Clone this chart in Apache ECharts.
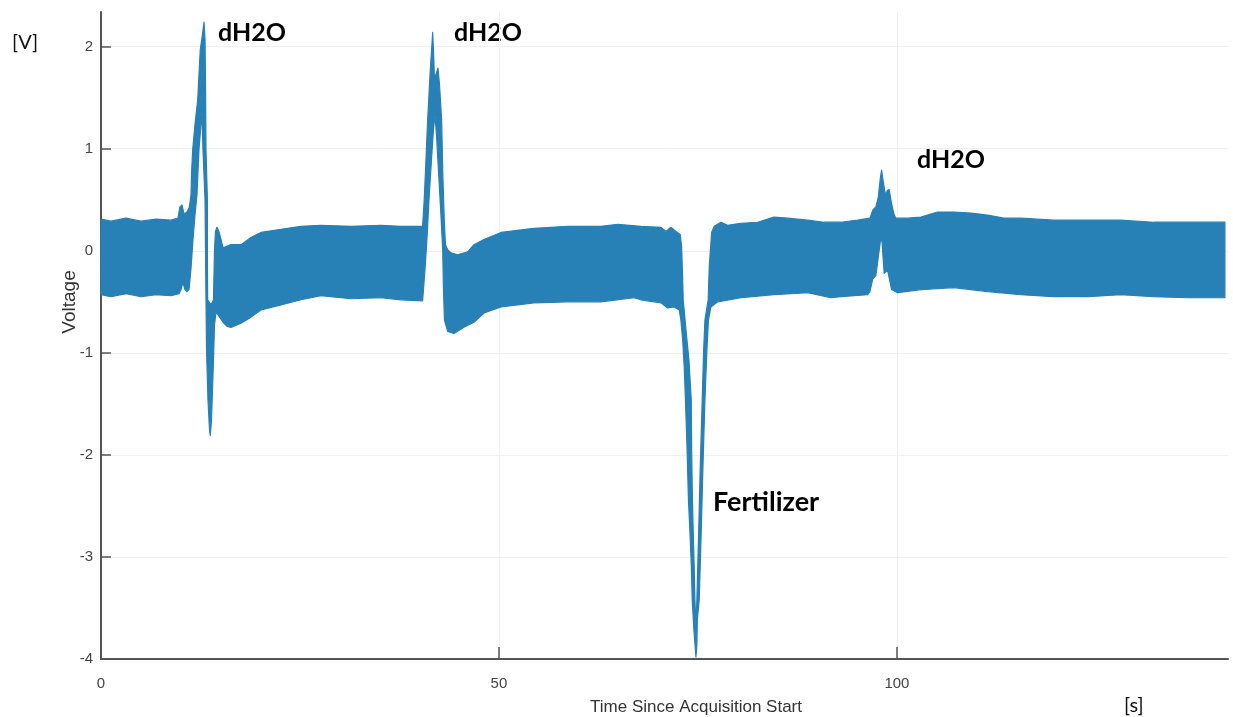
<!DOCTYPE html>
<html>
<head>
<meta charset="utf-8">
<script src="https://cdn.jsdelivr.net/npm/echarts@6/dist/echarts.min.js"></script>
<style>
  html, body { margin: 0; padding: 0; background: #fff; }
  #voltage { width: 1233px; height: 717px; }
</style>
</head>
<body>
<div id="voltage"></div>
<script>
// upper edge of the signal envelope, left to right (time s, voltage V)
var topT = [0, 1.26, 3.14, 5.03, 6.91, 8.79, 9.67, 9.92, 10.18, 10.43, 10.80, 11.06, 11.18, 11.31, 11.37, 11.52,
  11.81, 12.15, 12.47, 12.75, 12.94, 13.07, 13.15, 13.19, 13.37, 13.37, 13.40, 13.82, 14.13, 14.26, 14.38,
  14.57, 14.82, 15.08, 15.33, 16.33, 17.59, 18.84, 20.10, 22.61, 25.13, 27.64, 31.41, 35.18, 37.69, 40.41,
  40.61, 40.83, 41.04, 41.37, 41.58, 41.67, 41.77, 41.90, 42.09, 42.34, 42.53, 42.80, 42.93, 43.13, 43.28,
  43.56, 43.97, 44.81, 46.07, 46.86, 48.12, 50.25, 54.40, 58.67, 62.81, 64.95, 67.84, 70.35, 70.98, 71.61,
  72.24, 72.78, 72.95, 73.05, 73.15, 73.49, 73.87, 74.16, 74.21, 74.31, 74.41, 74.53, 74.62, 74.75, 74.87,
  75.09, 75.29, 75.54, 75.72, 75.88, 76.29, 76.42, 76.72, 77.05, 77.89, 78.73, 80.40, 82.50, 84.55, 86.27,
  88.78, 90.83, 92.96, 95.06, 96.61, 96.98, 97.36, 97.65, 97.93, 98.08, 98.24, 98.55, 98.81, 99.03, 99.31,
  99.62, 99.87, 101.34, 103.02, 105.11, 107.16, 109.30, 111.39, 113.44, 115.58, 119.72, 123.99, 128.14,
  132.29, 136.56, 141.21];
var topV = [0.31, 0.29, 0.32, 0.29, 0.31, 0.30, 0.32, 0.43, 0.45, 0.36, 0.38, 0.42, 0.47, 0.55, 0.75, 0.99,
  1.24, 1.48, 1.97, 2.12, 2.24, 2.07, 1.48, 0.99, 0.50, -0.09, -0.48, -0.53, -0.48, 0.01, 0.19,
  0.23, 0.19, 0.11, 0.03, 0.06, 0.06, 0.13, 0.18, 0.21, 0.24, 0.25, 0.24, 0.25, 0.24, 0.24,
  0.50, 0.89, 1.28, 1.77, 2.02, 2.14, 1.97, 1.68, 1.73, 1.79, 1.63, 1.28, 0.79, 0.30, 0.06,
  0.01, -0.02, -0.04, -0.01, 0.06, 0.11, 0.18, 0.22, 0.24, 0.24, 0.26, 0.24, 0.23, 0.19, 0.23,
  0.19, 0.16, 0.04, -0.19, -0.48, -0.77, -1.07, -1.46, -1.95, -2.44, -2.76, -3.10, -3.42, -3.67, -3.42,
  -2.76, -2.12, -1.46, -0.97, -0.68, -0.48, -0.16, 0.18, 0.24, 0.28, 0.25, 0.27, 0.28, 0.33, 0.32,
  0.30, 0.28, 0.28, 0.30, 0.32, 0.40, 0.43, 0.52, 0.72, 0.79, 0.70, 0.55, 0.59, 0.60, 0.47,
  0.36, 0.32, 0.32, 0.33, 0.38, 0.38, 0.37, 0.35, 0.32, 0.32, 0.30, 0.30, 0.30,
  0.28, 0.28, 0.28];

// lower edge of the envelope, left to right
var botT = [0, 1.26, 3.14, 5.03, 6.91, 8.79, 9.80, 10.05, 10.30, 10.55, 10.80, 11.06, 11.31, 11.56, 11.81,
  12.06, 12.31, 12.69, 12.81, 13.07, 13.13, 13.19, 13.26, 13.44, 13.63, 13.73, 13.88, 14.01, 14.13, 14.26,
  14.45, 14.82, 15.33, 15.83, 16.33, 17.59, 18.84, 20.10, 22.61, 25.13, 27.64, 31.41, 35.18, 37.69, 40.41,
  40.70, 40.95, 41.21, 41.52, 41.77, 41.96, 42.15, 42.40, 42.71, 42.93, 43.03, 43.15, 43.56, 44.35, 45.60,
  46.86, 48.12, 50.25, 54.40, 58.67, 62.81, 66.96, 67.84, 70.35, 71.19, 72.02, 72.65, 72.86, 73.08, 73.28,
  73.43, 73.62, 73.81, 74.00, 74.18, 74.28, 74.50, 74.75, 74.87, 74.92, 75.16, 75.41, 75.63, 75.88, 76.13,
  76.32, 76.63, 77.47, 80.40, 84.55, 88.78, 91.71, 92.96, 96.32, 96.61, 96.95, 97.36, 97.90, 98.08, 98.40,
  98.83, 99.33, 100.09, 103.02, 107.16, 111.43, 115.58, 119.72, 123.99, 128.14, 132.29, 136.56, 141.21];
var botV = [-0.43, -0.45, -0.42, -0.45, -0.43, -0.44, -0.42, -0.38, -0.31, -0.38, -0.40, -0.38, -0.17, 0.11, 0.35,
  0.55, 0.99, 1.36, 0.99, 0.50, 0.01, -0.48, -0.97, -1.46, -1.75, -1.81, -1.66, -1.36, -1.07, -0.73,
  -0.60, -0.64, -0.70, -0.74, -0.75, -0.71, -0.65, -0.58, -0.53, -0.48, -0.44, -0.47, -0.46, -0.48, -0.49,
  -0.19, 0.11, 0.50, 0.89, 1.19, 1.33, 1.14, 0.79, 0.35, 0.01, -0.38, -0.68, -0.79, -0.81, -0.75,
  -0.70, -0.61, -0.55, -0.51, -0.50, -0.50, -0.46, -0.48, -0.51, -0.56, -0.55, -0.58, -0.68, -0.87, -1.14,
  -1.46, -1.90, -2.44, -2.76, -3.10, -3.42, -3.72, -3.98, -3.86, -3.62, -3.42, -2.76, -2.12, -1.46, -0.97,
  -0.68, -0.55, -0.50, -0.46, -0.43, -0.41, -0.46, -0.45, -0.43, -0.40, -0.28, -0.24, 0.08, 0.14, -0.22,
  -0.19, -0.38, -0.41, -0.38, -0.36, -0.40, -0.43, -0.45, -0.45, -0.43, -0.45, -0.46, -0.46];

var lineColor = '#2780b6';

// closed outline: upper edge forward, lower edge back
var outline = [];
topT.forEach(function (t, i) { outline.push([t, topV[i]]); });
for (var i = botT.length - 1; i >= 0; i--) outline.push([botT[i], botV[i]]);

var myChart = echarts.init(document.getElementById('voltage'));
var axisColor = '#555';
var option = {
  backgroundColor: '#fff',
  animation: false,
  grid: { left: 101, right: 5, top: 12, bottom: 58 },
  xAxis: {
    type: 'value',
    min: 0,
    max: 141.6,
    interval: 50,
    axisLine: { show: true, onZero: false, lineStyle: { color: axisColor, width: 2 } },
    axisTick: { show: true, inside: true, length: 12, lineStyle: { color: axisColor, width: 1.5 } },
    axisLabel: { color: '#444', fontSize: 15, fontFamily: 'Liberation Sans', margin: 17, showMaxLabel: false },
    splitLine: { show: true, showMinLine: false, showMaxLine: false, lineStyle: { color: '#f0f0f0', width: 1 } }
  },
  yAxis: {
    type: 'value',
    min: -4,
    max: 2.34,
    interval: 1,
    axisLine: { show: true, onZero: false, lineStyle: { color: axisColor, width: 2 } },
    axisTick: { show: true, inside: true, length: 10, lineStyle: { color: axisColor, width: 1.5 } },
    axisLabel: { color: '#444', fontSize: 15, fontFamily: 'Liberation Sans', margin: 8, showMaxLabel: false },
    splitLine: { show: true, showMinLine: false, showMaxLine: false, lineStyle: { color: '#f0f0f0', width: 1 } }
  },
  series: [{
    type: 'custom',
    coordinateSystem: 'cartesian2d',
    data: outline,
    encode: { x: 0, y: 1 },
    renderItem: function (params, api) {
      if (params.dataIndex !== 0) return null;
      var pts = outline.map(function (p) { return api.coord(p); });
      return {
        type: 'polygon',
        shape: { points: pts },
        style: { fill: lineColor, stroke: lineColor, lineWidth: 1.2, lineJoin: 'round' }
      };
    }
  }],
  graphic: [
    { type: 'text', left: 12, top: 33, style: { text: '[V]', font: '20px Lato', fill: '#111' } },
    { type: 'text', left: 1124, top: 696, style: { text: '[s]', font: '20px Lato', fill: '#111' } },
    { type: 'text', x: 70, y: 302, rotation: Math.PI / 2,
      style: { text: 'Voltage', font: '19px "Liberation Sans"', fill: '#333', align: 'center', verticalAlign: 'middle' } },
    { type: 'text', x: 696, y: 707,
      style: { text: 'Time Since Acquisition Start', font: '17px "Liberation Sans"', fill: '#333', align: 'center', verticalAlign: 'middle' } },
    { type: 'text', x: 218, y: 33, style: { text: 'dH2O', font: 'bold 25px Lato', fill: '#000', verticalAlign: 'middle' } },
    { type: 'text', x: 454, y: 33, style: { text: 'dH2O', font: 'bold 25px Lato', fill: '#000', verticalAlign: 'middle' } },
    { type: 'text', x: 917, y: 160, style: { text: 'dH2O', font: 'bold 25px Lato', fill: '#000', verticalAlign: 'middle' } },
    { type: 'text', x: 713, y: 502, style: { text: 'Fertilizer', font: 'bold 27px Lato', fill: '#000', verticalAlign: 'middle' } }
  ]
};
option && myChart.setOption(option);
</script>
</body>
</html>
